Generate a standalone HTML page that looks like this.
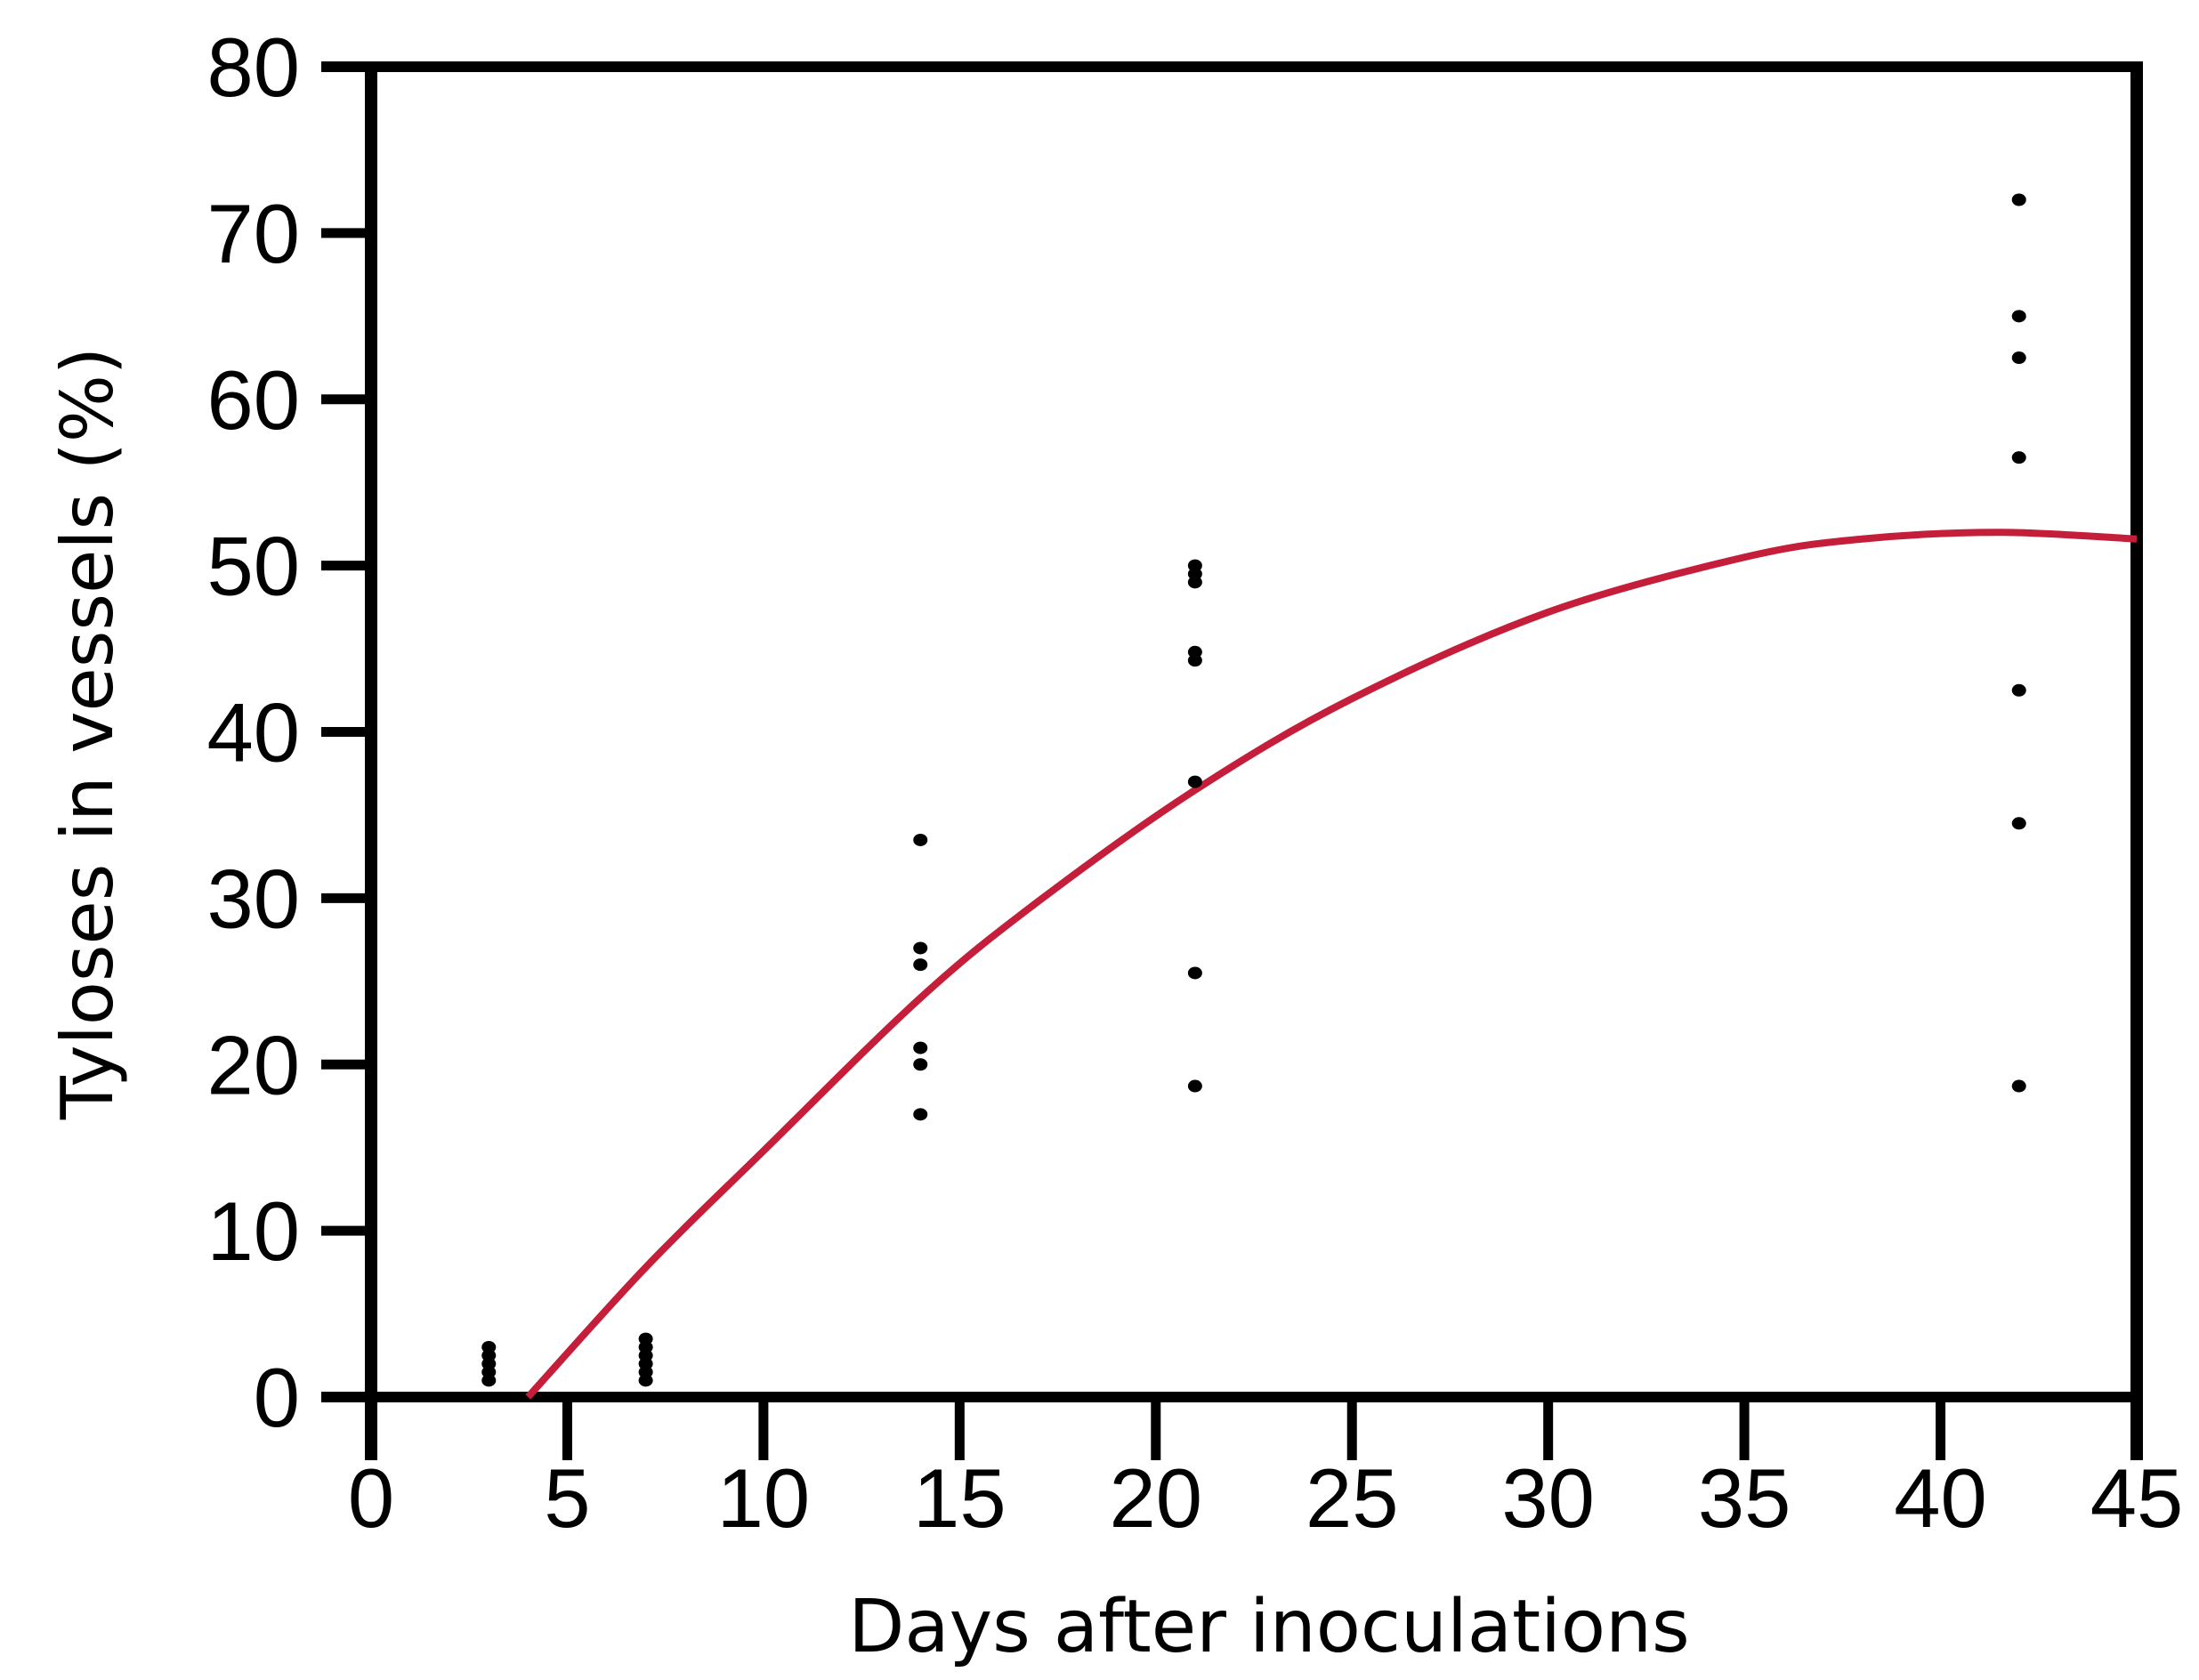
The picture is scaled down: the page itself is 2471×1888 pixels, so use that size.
<!DOCTYPE html>
<html><head><meta charset="utf-8"><style>
html,body{margin:0;padding:0;background:#fff;}
svg{display:block;}
text{font-family:"Liberation Sans",Arial,sans-serif;fill:#000;}
</style></head><body>
<svg id="chart" width="2471" height="1888" viewBox="0 0 2471 1888" xmlns="http://www.w3.org/2000/svg">
<g id="axes"></g>
<g id="curve-layer"></g>
<g id="points"></g>
<text x="1426" y="1856" font-size="82" text-anchor="middle" style="font-family:'DejaVu Sans','Liberation Sans',sans-serif">Days after inoculations</text>
<text x="0" y="0" font-size="80" text-anchor="middle" transform="translate(126,824) rotate(-90)" style="font-family:'DejaVu Sans','Liberation Sans',sans-serif">Tyloses in vessels (%)</text>
</svg>
<script>
const xTicks = [0,5,10,15,20,25,30,35,40,45];
const yTicks = [0,10,20,30,40,50,60,70,80];
const pointDays = [3,3,3,3,3, 7,7,7,7,7,7, 14,14,14,14,14,14, 21,21,21,21,21,21,21,21, 42,42,42,42,42,42,42];
const pointValues = [1,1.5,2,2.5,3, 1,1.5,2,2.5,3,3.5, 33.5,27,26,21,20,17, 50,49.5,49,44.8,44.3,37,25.5,18.7, 72,65,62.5,56.5,42.5,34.5,18.7];
const curveDays = [4,7,10,14,17,21,25,30,35,38,41.5,45];
const curveValues = [0,7.8,14.8,24,29.8,36.5,42,47.2,50.5,51.6,52,51.6];

const NS='http://www.w3.org/2000/svg';
const X0=417, X1=2401, Y0=1570, Y1=75;
function sx(v){return X0+(v-0)/(45-0)*(X1-X0);}
function sy(v){return Y0-(v-0)/(80-0)*(Y0-Y1);}
function mk(tag,attrs,parent){const e=document.createElementNS(NS,tag);for(const k in attrs)e.setAttribute(k,attrs[k]);parent.appendChild(e);return e;}

const axes=document.getElementById('axes');
let l;
l=mk('line',{x1:sx(0),y1:sy(80),x2:sx(0),y2:1641,stroke:'#000','stroke-width':14},axes);


l=mk('line',{x1:sx(45),y1:sy(80),x2:sx(45),y2:1641,stroke:'#000','stroke-width':14},axes);


l=mk('line',{x1:361,y1:sy(80),x2:sx(45)+7,y2:sy(80),stroke:'#000','stroke-width':12},axes);


l=mk('line',{x1:361,y1:sy(0),x2:sx(45),y2:sy(0),stroke:'#000','stroke-width':12},axes);



yTicks.forEach(v=>{
  const t=mk('line',{x1:361,y1:sy(v),x2:sx(0),y2:sy(v),stroke:'#000','stroke-width':11},axes);
  
  
  const tx=mk('text',{x:337,y:sy(v)+33,'font-size':94,'text-anchor':'end'},axes);
  tx.textContent=v;
  
  
});
xTicks.forEach(v=>{
  const t=mk('line',{x1:sx(v),y1:sy(0),x2:sx(v),y2:1641,stroke:'#000','stroke-width':11},axes);
  
  
  const tx=mk('text',{x:sx(v),y:1716,'font-size':94,'text-anchor':'middle'},axes);
  tx.textContent=v;
  
  
});

const pts=curveDays.map((d,i)=>[sx(d),sy(curveValues[i])]);
let d='M'+pts[0][0]+','+pts[0][1];
for(let i=0;i<pts.length-1;i++){
  const p0=pts[Math.max(0,i-1)],p1=pts[i],p2=pts[i+1],p3=pts[Math.min(pts.length-1,i+2)];
  const c1=[p1[0]+(p2[0]-p0[0])/6,p1[1]+(p2[1]-p0[1])/6];
  const c2=[p2[0]-(p3[0]-p1[0])/6,p2[1]-(p3[1]-p1[1])/6];
  d+=' C'+c1+' '+c2+' '+p2;
}
const cv=mk('path',{d:d,fill:'none',stroke:'#c41e3a','stroke-width':8},document.getElementById('curve-layer'));



const pg=document.getElementById('points');
pointDays.forEach((dd,i)=>{
  const c=mk('ellipse',{cx:sx(dd),cy:sy(pointValues[i]),rx:8,ry:7,fill:'#000'},pg);
  
  
});
</script>
</body></html>
